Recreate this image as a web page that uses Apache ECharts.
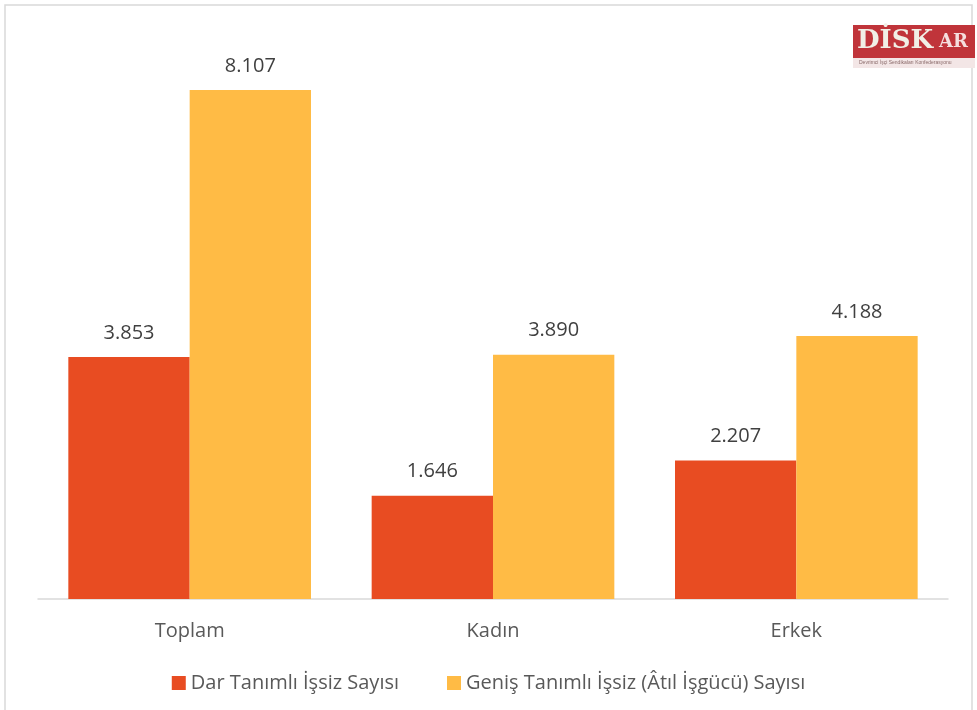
<!DOCTYPE html>
<html>
<head>
<meta charset="utf-8">
<script src="https://cdn.jsdelivr.net/npm/echarts@6/dist/echarts.min.js"></script>
<style>
  html, body { margin: 0; padding: 0; background: #fff; }
  #main { width: 977px; height: 710px; }
</style>
</head>
<body>
<div id="main"></div>
<script>
var categories = ['Toplam', 'Kadın', 'Erkek'];
var seriesNames = ['Dar Tanımlı İşsiz Sayısı', 'Geniş Tanımlı İşsiz (Âtıl İşgücü) Sayısı'];
var darValues = [3853, 1646, 2207];
var genisValues = [8107, 3890, 4188];

var FONT = '"Open Sans", "Noto Sans", sans-serif';

// binlik ayırıcı nokta: 3853 -> 3.853
function fmt(v) {
    return String(v).replace(/\B(?=(\d{3})+(?!\d))/g, '.');
}

var chart = echarts.init(document.getElementById('main'), null, { renderer: 'canvas' });

var option = {
    backgroundColor: '#fff',
    animation: false,
    grid: { left: 38, right: 29, top: 34, bottom: 111 },
    legend: {
        bottom: 12,
        left: 'center',
        itemWidth: 14,
        itemHeight: 14,
        itemGap: 48,
        itemStyle: { borderWidth: 0 },
        icon: 'rect',
        textStyle: { fontFamily: FONT, fontSize: 20, color: '#595959' },
        data: seriesNames
    },
    xAxis: {
        type: 'category',
        data: categories,
        axisLine: { lineStyle: { color: '#d9d9d9', width: 1.5 } },
        axisTick: { show: false },
        axisLabel: { fontFamily: FONT, fontSize: 20, color: '#595959', margin: 22 }
    },
    yAxis: {
        type: 'value',
        min: 0,
        max: 9000,
        show: false,
        splitLine: { show: false }
    },
    series: [
        {
            name: seriesNames[0],
            type: 'bar',
            data: darValues,
            barGap: '0%',
            barCategoryGap: '20%',
            itemStyle: { color: '#e84c22' },
            label: {
                show: true,
                position: 'top',
                distance: 14,
                fontFamily: FONT,
                fontSize: 20,
                color: '#404040',
                formatter: function (p) { return fmt(p.value); }
            }
        },
        {
            name: seriesNames[1],
            type: 'bar',
            data: genisValues,
            barGap: '0%',
            barCategoryGap: '20%',
            itemStyle: { color: '#ffbb45' },
            label: {
                show: true,
                position: 'top',
                distance: 14,
                fontFamily: FONT,
                fontSize: 20,
                color: '#404040',
                formatter: function (p) { return fmt(p.value); }
            }
        }
    ],
    graphic: [
        // çerçeve
        {
            type: 'rect',
            shape: { x: 5, y: 5, width: 967, height: 720 },
            style: { fill: null, stroke: '#d9d9d9', lineWidth: 1.5 },
            silent: true
        },
        // logo
        {
            type: 'group',
            left: 853,
            top: 25,
            children: [
                { type: 'rect', shape: { x: 0, y: 0, width: 122, height: 33 }, style: { fill: '#c0343a' } },
                { type: 'rect', shape: { x: 0, y: 33, width: 122, height: 10 }, style: { fill: '#f3e6e6' } },
                {
                    type: 'text',
                    x: 4, y: 3,
                    style: { text: 'DİSK', fill: '#f1efe6', font: 'bold 26px "DejaVu Serif", serif' }
                },
                {
                    type: 'text',
                    x: 86, y: 8,
                    style: { text: 'AR', fill: '#f5dede', font: 'bold 18px "DejaVu Serif", serif' }
                },
                {
                    type: 'text',
                    x: 6, y: 35,
                    style: { text: 'Devrimci İşçi Sendikaları Konfederasyonu', fill: '#8a6a6a', font: '5px sans-serif' }
                }
            ]
        }
    ]
};

chart.setOption(option);
</script>
</body>
</html>
